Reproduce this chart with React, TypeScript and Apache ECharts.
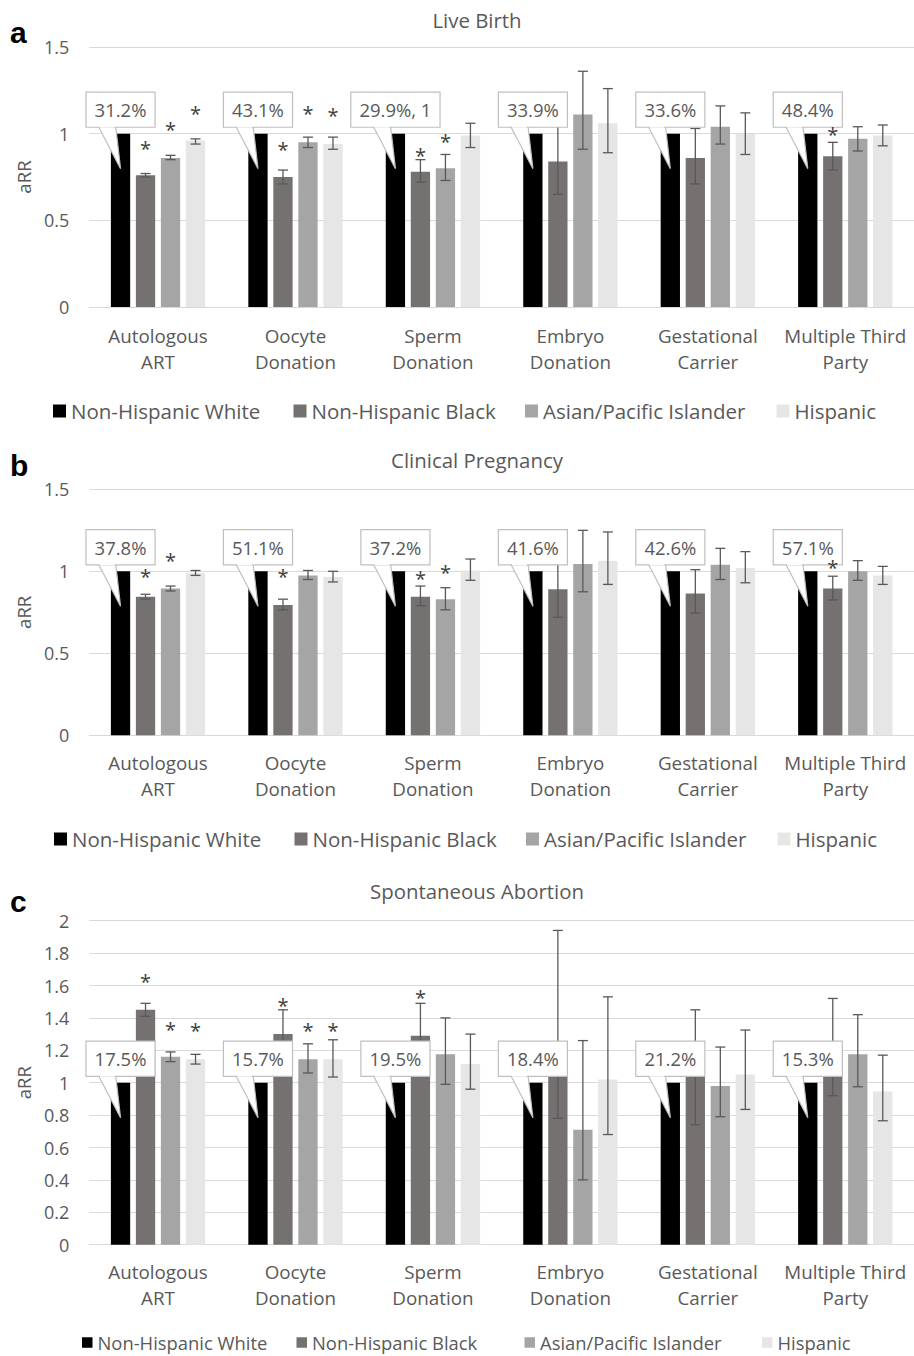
import React, { useEffect, useRef } from 'react';
import * as echarts from 'echarts';

// ---------- categories & groups ----------
const categories = [
  'Autologous\nART',
  'Oocyte\nDonation',
  'Sperm\nDonation',
  'Embryo\nDonation',
  'Gestational\nCarrier',
  'Multiple Third\nParty',
];
const groups = ['Non-Hispanic White', 'Non-Hispanic Black', 'Asian/Pacific Islander', 'Hispanic'];

// ---------- (a) Live Birth ----------
const lbWhite = [1, 1, 1, 1, 1, 1];
const lbBlack = [0.76, 0.75, 0.78, 0.84, 0.86, 0.87];
const lbBlackLow = [0.75, 0.71, 0.72, 0.65, 0.71, 0.79];
const lbBlackHigh = [0.77, 0.79, 0.85, 1.09, 1.03, 0.95];
const lbAsian = [0.86, 0.95, 0.8, 1.11, 1.04, 0.97];
const lbAsianLow = [0.85, 0.92, 0.73, 0.91, 0.94, 0.9];
const lbAsianHigh = [0.875, 0.98, 0.88, 1.36, 1.16, 1.04];
const lbHispanic = [0.96, 0.94, 0.99, 1.06, 1.0, 0.99];
const lbHispanicLow = [0.94, 0.91, 0.92, 0.89, 0.88, 0.93];
const lbHispanicHigh = [0.97, 0.98, 1.06, 1.26, 1.12, 1.05];
const lbBlackStar = [0.94, 0.93, 0.9, null, null, 1.02];
const lbAsianStar = [1.05, 1.14, 0.98, null, null, null];
const lbHispanicStar = [1.14, 1.13, null, null, null, null];
const lbCallouts = ['31.2%', '43.1%', '29.9%, 1', '33.9%', '33.6%', '48.4%'];

// ---------- (b) Clinical Pregnancy ----------
const cpWhite = [1, 1, 1, 1, 1, 1];
const cpBlack = [0.845, 0.795, 0.845, 0.89, 0.865, 0.895];
const cpBlackLow = [0.83, 0.765, 0.79, 0.72, 0.745, 0.825];
const cpBlackHigh = [0.86, 0.83, 0.91, 1.105, 1.01, 0.97];
const cpAsian = [0.895, 0.975, 0.83, 1.045, 1.04, 1.0];
const cpAsianLow = [0.88, 0.95, 0.765, 0.875, 0.95, 0.945];
const cpAsianHigh = [0.91, 1.005, 0.9, 1.25, 1.14, 1.065];
const cpHispanic = [0.99, 0.965, 1.005, 1.065, 1.02, 0.975];
const cpHispanicLow = [0.975, 0.935, 0.945, 0.92, 0.93, 0.92];
const cpHispanicHigh = [1.005, 1.0, 1.075, 1.24, 1.12, 1.03];
const cpBlackStar = [0.99, 0.99, 0.98, null, null, 1.045];
const cpAsianStar = [1.09, null, 1.02, null, null, null];
const cpHispanicStar = [null, null, null, null, null, null];
const cpCallouts = ['37.8%', '51.1%', '37.2%', '41.6%', '42.6%', '57.1%'];

// ---------- (c) Spontaneous Abortion ----------
const saWhite = [1, 1, 1, 1, 1, 1];
const saBlack = [1.45, 1.3, 1.29, 1.23, 1.04, 1.19];
const saBlackLow = [1.41, 1.17, 1.11, 0.78, 0.74, 0.92];
const saBlackHigh = [1.49, 1.45, 1.49, 1.94, 1.45, 1.52];
const saAsian = [1.16, 1.145, 1.175, 0.71, 0.98, 1.175];
const saAsianLow = [1.13, 1.06, 0.99, 0.4, 0.79, 0.975];
const saAsianHigh = [1.19, 1.24, 1.4, 1.26, 1.22, 1.42];
const saHispanic = [1.145, 1.145, 1.115, 1.02, 1.05, 0.945];
const saHispanicLow = [1.115, 1.035, 0.96, 0.68, 0.835, 0.765];
const saHispanicHigh = [1.175, 1.265, 1.3, 1.53, 1.325, 1.17];
const saBlackStar = [1.65, 1.5, 1.55, null, null, null];
const saAsianStar = [1.355, 1.345, null, null, null, null];
const saHispanicStar = [1.345, 1.345, null, null, null, null];
const saCallouts = ['17.5%', '15.7%', '19.5%', '18.4%', '21.2%', '15.3%'];

// ---------- y-axis ticks ----------
const yMaxAB = 1.5;
const yStepAB = 0.5;
const yMaxC = 2;
const yStepC = 0.2;

// ---------- styles / layout ----------
const COLORS = ['#000000', '#767171', '#A5A5A5', '#E7E6E6'];
const TEXT = '#595959';
const ERR = '#595959';
const GRIDC = '#D9D9D9';
const FONT = "'Open Sans', sans-serif";
const BAR_W = 19.3;
const BAR_GAP = 5.7;
const STEP = BAR_W + BAR_GAP;
const GRID_LEFT = 89.3;
const GRID_W = 827.6;

const panelData = [
  {
    title: 'Live Birth',
    letter: 'a',
    values: [lbWhite, lbBlack, lbAsian, lbHispanic],
    lows: [null, lbBlackLow, lbAsianLow, lbHispanicLow],
    highs: [null, lbBlackHigh, lbAsianHigh, lbHispanicHigh],
    stars: [null, lbBlackStar, lbAsianStar, lbHispanicStar],
    callouts: lbCallouts,
    max: yMaxAB,
    step: yStepAB,
  },
  {
    title: 'Clinical Pregnancy',
    letter: 'b',
    values: [cpWhite, cpBlack, cpAsian, cpHispanic],
    lows: [null, cpBlackLow, cpAsianLow, cpHispanicLow],
    highs: [null, cpBlackHigh, cpAsianHigh, cpHispanicHigh],
    stars: [null, cpBlackStar, cpAsianStar, cpHispanicStar],
    callouts: cpCallouts,
    max: yMaxAB,
    step: yStepAB,
  },
  {
    title: 'Spontaneous Abortion',
    letter: 'c',
    values: [saWhite, saBlack, saAsian, saHispanic],
    lows: [null, saBlackLow, saAsianLow, saHispanicLow],
    highs: [null, saBlackHigh, saAsianHigh, saHispanicHigh],
    stars: [null, saBlackStar, saAsianStar, saHispanicStar],
    callouts: saCallouts,
    max: yMaxC,
    step: yStepC,
  },
];

const layout = [
  { top: 47, height: 260, titleY: 20, letterY: 32.3, nameX: 23.4, legendY: 411, legendLH: 24, legendX: [53, 293.5, 525, 776.5], legendFont: 20.5, legendIcon: 13, labelMargin: 16 },
  { top: 489.3, height: 246, titleY: 460, letterY: 465.6, nameX: 23.4, legendY: 839, legendLH: 24, legendX: [54, 294.5, 526, 777.5], legendFont: 20.5, legendIcon: 13, labelMargin: 15 },
  { top: 920.7, height: 324, titleY: 891, letterY: 901.3, nameX: 23.8, legendY: 1342.5, legendLH: 19, legendX: [82, 296.5, 524.5, 762], legendFont: 18.4, legendIcon: 10.5, labelMargin: 14.5 },
];

function makeErr(offset: number) {
  return (params: any, api: any) => {
    const i = api.value(0);
    const lo = api.coord([i, api.value(1)]);
    const hi = api.coord([i, api.value(2)]);
    const x = lo[0] + offset;
    const ls = { stroke: ERR, lineWidth: 1.3 };
    return {
      type: 'group',
      children: [
        { type: 'line', shape: { x1: x, y1: lo[1], x2: x, y2: hi[1] }, style: ls },
        { type: 'line', shape: { x1: x - 5, y1: lo[1], x2: x + 5, y2: lo[1] }, style: ls },
        { type: 'line', shape: { x1: x - 5, y1: hi[1], x2: x + 5, y2: hi[1] }, style: ls },
      ],
    };
  };
}

function makeStar(offset: number) {
  return (params: any, api: any) => {
    const s = api.value(1);
    if (s == null || isNaN(s)) return null;
    const p = api.coord([api.value(0), s]);
    return {
      type: 'text',
      style: {
        text: '*',
        x: p[0] + offset,
        y: p[1] + 4,
        align: 'center',
        verticalAlign: 'middle',
        fontSize: 20,
        fontFamily: FONT,
        fill: '#404040',
      },
    };
  };
}

function makeCallout(labels: string[], offset: number) {
  return (params: any, api: any) => {
    const i = api.value(0);
    const p = api.coord([i, api.value(1)]);
    const cx = p[0] + offset;
    const top = p[1];
    const bottom = top - 7;
    return {
      type: 'group',
      children: [
        {
          type: 'polygon',
          shape: { points: [[cx - 22, bottom], [cx, top + 35], [cx - 4.8, bottom]] },
          style: { fill: '#ffffff', stroke: '#BFBFBF', lineWidth: 1.2 },
        },
        {
          type: 'text',
          style: {
            text: labels[params.dataIndex],
            x: cx,
            y: bottom,
            align: 'center',
            verticalAlign: 'bottom',
            fontSize: 18.5,
            fontFamily: FONT,
            lineHeight: 25,
            fill: TEXT,
            backgroundColor: '#ffffff',
            borderColor: '#BFBFBF',
            borderWidth: 1.2,
            padding: [4.5, 8, 4.5, 8],
          },
        },
        {
          type: 'line',
          shape: { x1: cx - 20.8, y1: bottom, x2: cx - 6, y2: bottom },
          style: { stroke: '#ffffff', lineWidth: 2 },
        },
      ],
    };
  };
}

function buildOption() {
  const grid: any[] = [];
  const xAxis: any[] = [];
  const yAxis: any[] = [];
  const series: any[] = [];
  const legend: any[] = [];
  const graphic: any[] = [];

  panelData.forEach((pd, p) => {
    const L = layout[p];
    grid.push({ left: GRID_LEFT, top: L.top, width: GRID_W, height: L.height });
    xAxis.push({
      type: 'category',
      gridIndex: p,
      data: categories,
      axisLine: { lineStyle: { color: GRIDC, width: 1 } },
      axisTick: { show: false },
      axisLabel: {
        interval: 0,
        margin: L.labelMargin,
        color: TEXT,
        fontSize: 18.8,
        lineHeight: 26,
        fontFamily: FONT,
      },
    });
    yAxis.push({
      type: 'value',
      gridIndex: p,
      min: 0,
      max: pd.max,
      interval: pd.step,
      axisLine: { show: false },
      axisTick: { show: false },
      splitLine: { lineStyle: { color: GRIDC, width: 1 } },
      axisLabel: { color: TEXT, fontSize: 18, fontFamily: FONT, margin: 20 },
    });

    pd.values.forEach((vals, k) => {
      series.push({
        type: 'bar',
        name: groups[k],
        xAxisIndex: p,
        yAxisIndex: p,
        data: vals,
        barWidth: BAR_W,
        barGap: (BAR_GAP / BAR_W) * 100 + '%',
        itemStyle: { color: COLORS[k] },
        z: 2,
        silent: true,
      });
    });
    for (let k = 1; k < 4; k++) {
      const lows = pd.lows[k] as number[];
      const highs = pd.highs[k] as number[];
      series.push({
        type: 'custom',
        xAxisIndex: p,
        yAxisIndex: p,
        data: categories.map((_, i) => [i, lows[i], highs[i]]),
        renderItem: makeErr((k - 1.5) * STEP),
        z: 5,
        silent: true,
      });
    }
    series.push({
      type: 'custom',
      xAxisIndex: p,
      yAxisIndex: p,
      data: categories.map((_, i) => [i, pd.values[0][i]]),
      renderItem: makeCallout(pd.callouts, -1.5 * STEP),
      z: 10,
      silent: true,
    });
    for (let k = 1; k < 4; k++) {
      const stars = pd.stars[k] as (number | null)[];
      series.push({
        type: 'custom',
        xAxisIndex: p,
        yAxisIndex: p,
        data: categories.map((_, i) => [i, stars[i] == null ? NaN : stars[i]]),
        renderItem: makeStar((k - 1.5) * STEP),
        z: 12,
        silent: true,
      });
    }

    groups.forEach((g, k) => {
      legend.push({
        left: L.legendX[k],
        top: L.legendY - L.legendLH / 2,
        padding: 0,
        itemWidth: L.legendIcon,
        itemHeight: L.legendIcon,
        icon: 'rect',
        selectedMode: false,
        data: [g],
        textStyle: { color: TEXT, fontSize: L.legendFont, fontFamily: FONT, lineHeight: L.legendLH },
      });
    });

    graphic.push({
      type: 'text',
      x: 477,
      y: L.titleY,
      style: {
        text: pd.title,
        align: 'center',
        verticalAlign: 'middle',
        textAlign: 'center',
        textVerticalAlign: 'middle',
        fontSize: 20.4,
        fontFamily: FONT,
        fill: TEXT,
      },
    });
    graphic.push({
      type: 'text',
      x: 10,
      y: L.letterY,
      style: {
        text: pd.letter,
        align: 'left',
        verticalAlign: 'middle',
        textAlign: 'left',
        textVerticalAlign: 'middle',
        fontSize: 30,
        fontWeight: 'bold',
        fontFamily: "'Liberation Sans', Arial, sans-serif",
        fill: '#000000',
      },
    });
    graphic.push({
      type: 'text',
      x: L.nameX,
      y: L.top + L.height / 2,
      rotation: Math.PI / 2,
      style: {
        text: 'aRR',
        align: 'center',
        verticalAlign: 'middle',
        textAlign: 'center',
        textVerticalAlign: 'middle',
        fontSize: 18.6,
        fontFamily: FONT,
        fill: TEXT,
      },
    });
  });

  return {
    animation: false,
    backgroundColor: '#ffffff',
    grid,
    xAxis,
    yAxis,
    legend,
    graphic,
    series,
  };
}

export default function App() {
  const ref = useRef<HTMLDivElement>(null);
  useEffect(() => {
    if (!ref.current) return;
    const chart = echarts.init(ref.current, undefined, { renderer: 'svg' });
    chart.setOption(buildOption() as any);
    return () => chart.dispose();
  }, []);
  return (
    <div
      ref={ref}
      style={{ position: 'absolute', left: 0, top: 0, width: 914, height: 1356, background: '#fff' }}
    />
  );
}
